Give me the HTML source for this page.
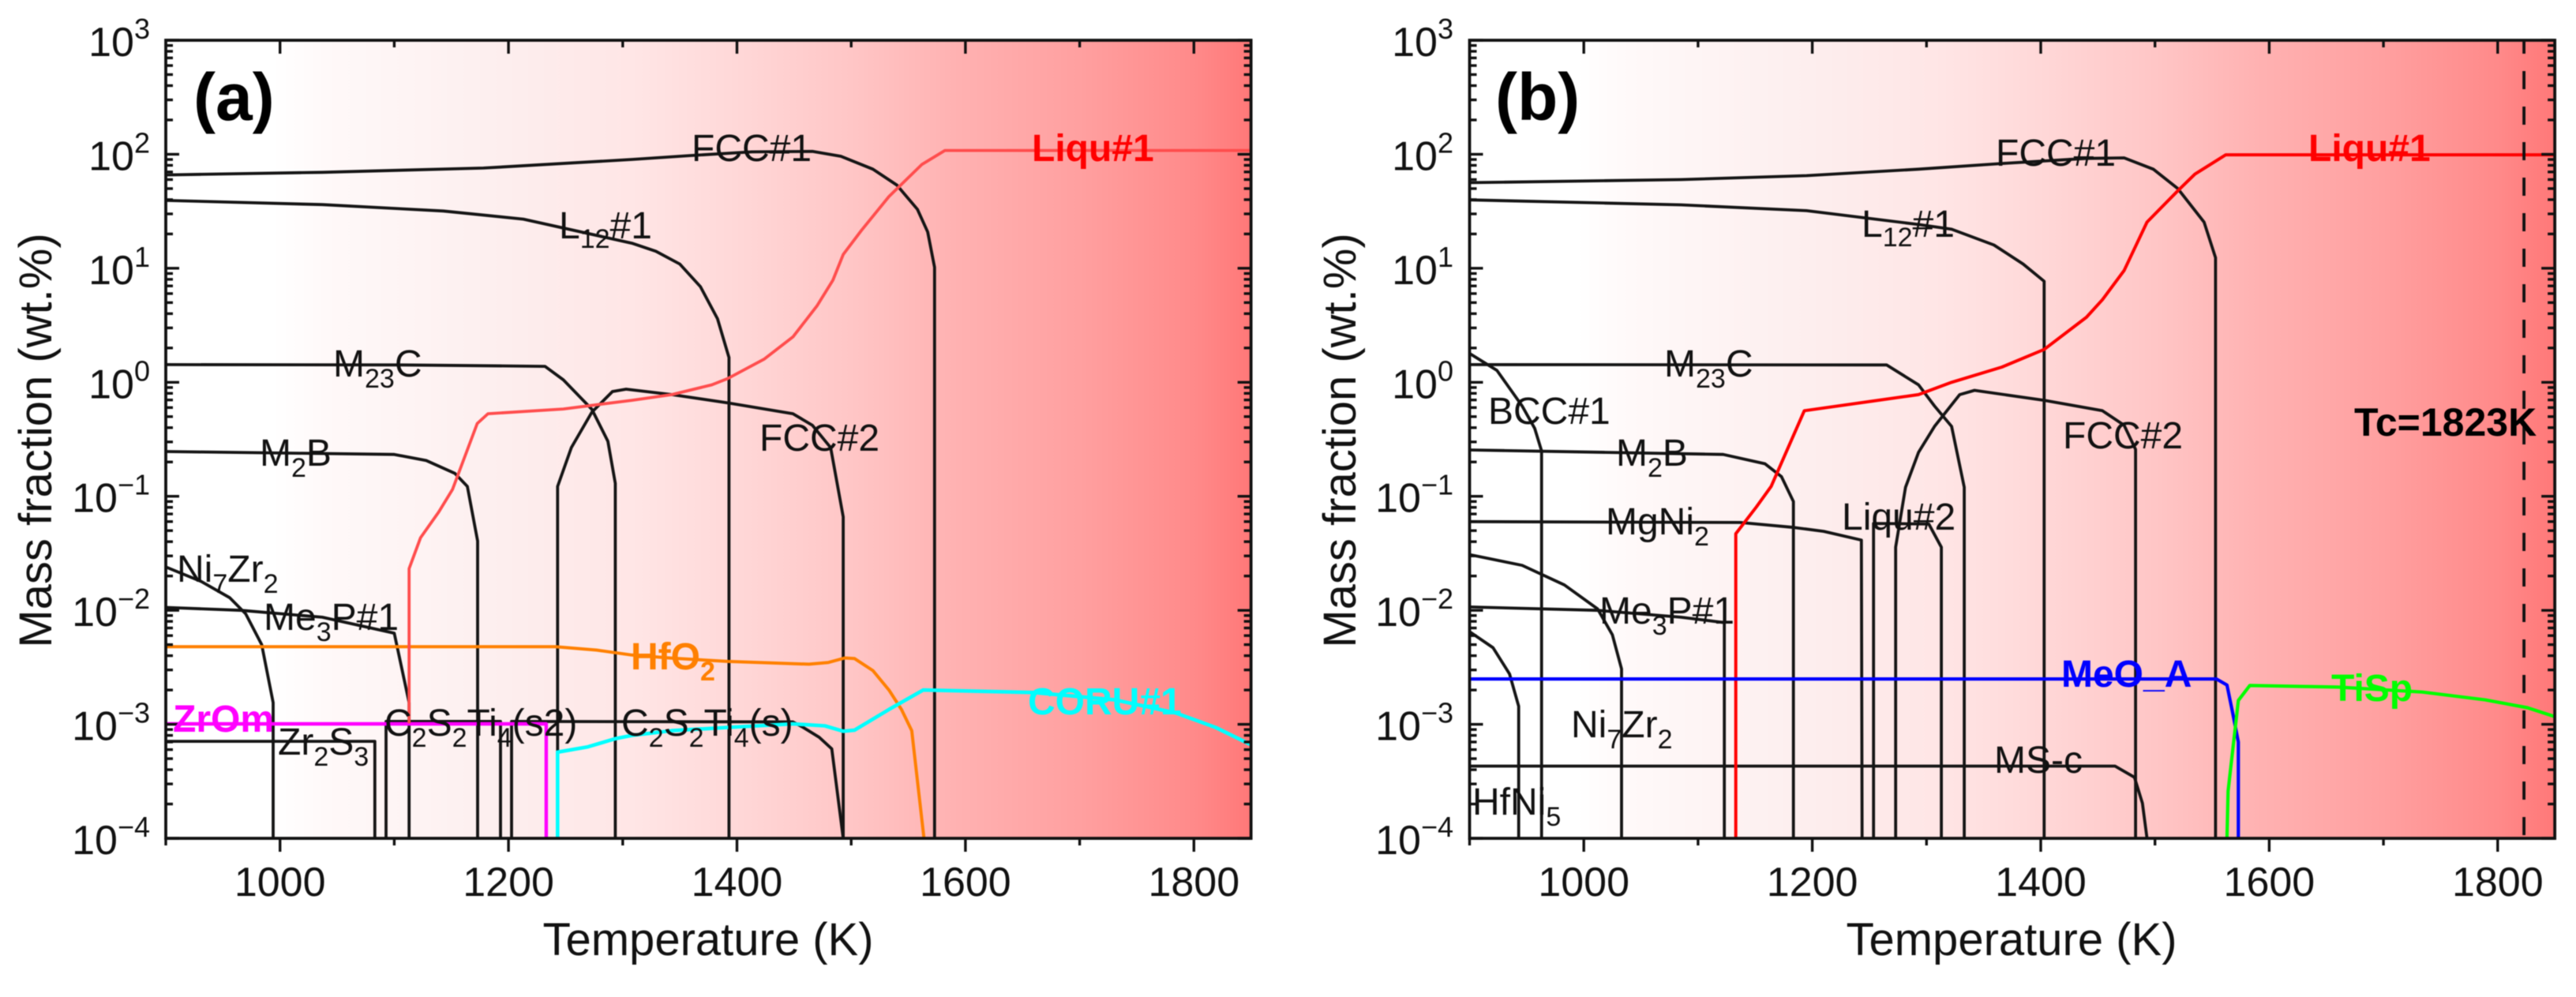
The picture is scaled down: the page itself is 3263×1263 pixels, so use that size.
<!DOCTYPE html>
<html lang="en">
<head>
<meta charset="utf-8">
<title>Mass fraction vs temperature</title>
<style>
html,body{margin:0;padding:0;background:#fff;}
svg{display:block;filter:blur(0.6px);}
text{font-family:"Liberation Sans",Arial,sans-serif;fill:#111;}
.t{font-size:48px;}
.b{font-size:48px;font-weight:bold;}
.tick{font-size:52px;}
.title{font-size:58px;}
.panel{font-size:84px;font-weight:bold;fill:#000;}
</style>
</head>
<body>
<svg id="figure" xmlns="http://www.w3.org/2000/svg" width="3263" height="1263" viewBox="0 0 3263 1263">
<defs>
<linearGradient id="heat" x1="0" x2="1" y1="0" y2="0">
<stop offset="0" stop-color="#ffffff"/>
<stop offset="0.10" stop-color="#ffffff"/>
<stop offset="0.15" stop-color="#fff9f9"/>
<stop offset="0.316" stop-color="#fdeeee"/>
<stop offset="0.43" stop-color="#ffe6e6"/>
<stop offset="0.526" stop-color="#ffd8d8"/>
<stop offset="0.632" stop-color="#ffc6c6"/>
<stop offset="0.726" stop-color="#ffb2b2"/>
<stop offset="0.842" stop-color="#ffa0a0"/>
<stop offset="0.947" stop-color="#ff8a8a"/>
<stop offset="1" stop-color="#ff7878"/>
</linearGradient>
<clipPath id="clip-a"><rect x="210" y="51" width="1375" height="1011"/></clipPath>
<clipPath id="clip-b"><rect x="1861.5" y="51" width="1375" height="1011"/></clipPath>
</defs>

<rect x="210" y="51" width="1375" height="1011" fill="url(#heat)"/>
<rect x="1861.5" y="51" width="1375" height="1011" fill="url(#heat)"/>

<g id="curves-a" clip-path="url(#clip-a)" fill="none" stroke-linejoin="round"></g>
<g id="curves-b" clip-path="url(#clip-b)" fill="none" stroke-linejoin="round"></g>
<g id="axes-a"></g>
<g id="axes-b"></g>

<g>
<text class="panel" x="245" y="152">(a)</text>
<text class="t" x="876" y="204">FCC#1</text>
<text class="b" x="1307" y="204" style="fill:#ff0000">Liqu#1</text>
<text class="t" x="708" y="302">L<tspan font-size="34" dy="12">12</tspan><tspan dy="-12">#1</tspan></text>
<text class="t" x="422" y="477">M<tspan font-size="34" dy="14">23</tspan><tspan dy="-14">C</tspan></text>
<text class="t" x="962" y="571">FCC#2</text>
<text class="t" x="329" y="590">M<tspan font-size="34" dy="14">2</tspan><tspan dy="-14">B</tspan></text>
<text class="t" x="224" y="737">Ni<tspan font-size="34" dy="14">7</tspan><tspan dy="-14">Zr</tspan><tspan font-size="34" dy="14">2</tspan></text>
<text class="t" x="334" y="798">Me<tspan font-size="34" dy="14">3</tspan><tspan dy="-14">P#1</tspan></text>
<text class="b" x="799" y="848" style="fill:#ff8000">HfO<tspan font-size="34" dy="14">2</tspan></text>
<text class="b" x="219" y="927" style="fill:#ff00ff">ZrOm</text>
<text class="t" x="352" y="956">Zr<tspan font-size="34" dy="14">2</tspan><tspan dy="-14">S</tspan><tspan font-size="34" dy="14">3</tspan></text>
<text class="t" x="487" y="932">C<tspan font-size="34" dy="14">2</tspan><tspan dy="-14">S</tspan><tspan font-size="34" dy="14">2</tspan><tspan dy="-14">Ti</tspan><tspan font-size="34" dy="14">4</tspan><tspan dy="-14">(s2)</tspan></text>
<text class="t" x="787" y="932">C<tspan font-size="34" dy="14">2</tspan><tspan dy="-14">S</tspan><tspan font-size="34" dy="14">2</tspan><tspan dy="-14">Ti</tspan><tspan font-size="34" dy="14">4</tspan><tspan dy="-14">(s)</tspan></text>
<text class="b" x="1302" y="905" style="fill:#00ffff">CORU#1</text>
<text class="title" transform="translate(65,558) rotate(-90)" text-anchor="middle">Mass fraction (wt.%)</text>
<text class="title" x="897" y="1210" text-anchor="middle">Temperature (K)</text>
</g>

<g>
<text class="panel" x="1894" y="152">(b)</text>
<text class="t" x="2528" y="210">FCC#1</text>
<text class="b" x="2924" y="204" style="fill:#ff0000">Liqu#1</text>
<text class="t" x="2358" y="300">L<tspan font-size="34" dy="12">12</tspan><tspan dy="-12">#1</tspan></text>
<text class="t" x="2108" y="477">M<tspan font-size="34" dy="14">23</tspan><tspan dy="-14">C</tspan></text>
<text class="t" x="1885" y="537">BCC#1</text>
<text class="t" x="2047" y="590">M<tspan font-size="34" dy="14">2</tspan><tspan dy="-14">B</tspan></text>
<text class="t" x="2613" y="568">FCC#2</text>
<text class="t" x="2034" y="677">MgNi<tspan font-size="34" dy="14">2</tspan></text>
<text class="t" x="2333" y="671">Liqu#2</text>
<text class="t" x="2026" y="790">Me<tspan font-size="34" dy="14">3</tspan><tspan dy="-14">P#1</tspan></text>
<text class="b" x="2611" y="870" style="fill:#0000ff">MeO_A</text>
<text class="b" x="2953" y="888" style="fill:#00ff00">TiSp</text>
<text class="t" x="1990" y="934">Ni<tspan font-size="34" dy="14">7</tspan><tspan dy="-14">Zr</tspan><tspan font-size="34" dy="14">2</tspan></text>
<text class="t" x="2526" y="979">MS-c</text>
<text class="t" x="1865" y="1032">HfNi<tspan font-size="34" dy="14">5</tspan></text>
<text class="b" x="2982" y="552" style="font-size:50px;fill:#000">Tc=1823K</text>
<text class="title" transform="translate(1717,558) rotate(-90)" text-anchor="middle">Mass fraction (wt.%)</text>
<text class="title" x="2548" y="1210" text-anchor="middle">Temperature (K)</text>
</g>
</svg>

<script>
// Axis data
const xMajorTicks = [1000, 1200, 1400, 1600, 1800];
const xMinorTicks = [900, 1100, 1300, 1500, 1700];
const yDecades = [3, 2, 1, 0, -1, -2, -3, -4];
const yMinorFactors = [2, 3, 4, 5, 6, 7, 8, 9];
const criticalTemperature = [1823];

// Panel (a) series: [temperature K, mass fraction wt.%]
const aFcc1 = [[900,65.9],[1037,69.5],[1178,75.7],[1308,90],[1360,97.5],[1413,105],[1466,106],[1491,96],[1519,74],[1540,53.6],[1558,32.9],[1567,20.8],[1573,10.2],[1573,0.0001]];
const aL12 = [[900,39.4],[1037,36.2],[1143,31.8],[1213,27],[1308,16.6],[1329,14.1],[1350,10.9],[1368,6.9],[1383,3.6],[1393,1.65],[1393,0.0001]];
const aM23c = [[900,1.43],[1107,1.42],[1232,1.38],[1248,1.05],[1273,0.58],[1287,0.304],[1293.5,0.13],[1293.5,0.0001]];
const aM2b = [[900,0.247],[1100,0.233],[1128,0.206],[1153,0.159],[1164,0.122],[1173,0.0405],[1173,0.0001]];
const aFcc2 = [[1243,0.0001],[1243,0.122],[1255,0.267],[1273,0.546],[1291,0.83],[1303,0.87],[1343,0.78],[1392,0.66],[1449,0.53],[1466,0.42],[1482,0.267],[1493,0.066],[1493,0.0001]];
const aMe3p = [[900,0.0106],[966,0.01],[1037,0.0087],[1100,0.0063],[1113,0.00155],[1113,0.0001]];
const aNi7zr2 = [[900,0.024],[931,0.0179],[956,0.0129],[970,0.0093],[984,0.005],[994,0.00155],[994,0.0001]];
const aZr2s3 = [[900,0.00071],[1083,0.00071],[1083,0.0001]];
const aC2s2ti4S2 = [[1092.8,0.0001],[1092.8,0.00106],[1193,0.00106],[1193,0.0001]];
const aC2s2ti4S = [[1202.7,0.0001],[1202.7,0.00106],[1449,0.00105],[1458,0.00094],[1472,0.00077],[1483,0.00061],[1493,0.0001]];
const aLiqu1 = [[1113,0.00102],[1113,0.0232],[1123,0.0433],[1139,0.073],[1151,0.115],[1172.6,0.435],[1182,0.53],[1248,0.583],[1308,0.695],[1343,0.78],[1378,0.95],[1392,1.08],[1424,1.6],[1449,2.5],[1470,4.67],[1484,7.85],[1493,13.2],[1509,21.5],[1533,42.6],[1562,81.6],[1582,108],[1850,108]];
const aHfo2 = [[900,0.0048],[1241,0.0048],[1277,0.00448],[1308,0.00405],[1343,0.0038],[1392,0.00356],[1463,0.00337],[1480,0.00349],[1494.5,0.00382],[1503,0.00377],[1519,0.00296],[1533,0.002],[1544,0.00135],[1553,0.00088],[1563.7,0.0001]];
const aZrom = [[900,0.00101],[1233,0.00101],[1233,0.0001]];
const aCoru1 = [[1243,0.0001],[1243,0.00057],[1269.5,0.000635],[1294,0.00075],[1308,0.0008],[1343,0.00088],[1392,0.00094],[1449,0.00101],[1477,0.00097],[1493,0.00087],[1503,0.00089],[1533,0.00135],[1563,0.002],[1660,0.0019],[1731,0.00164],[1784,0.00126],[1819,0.00094],[1850,0.00066]];

// Panel (b) series: [temperature K, mass fraction wt.%]
const bFcc1 = [[900,56.4],[1085,60],[1195,65],[1293,74],[1366,83],[1440,92],[1473,93],[1498.5,74],[1520,50],[1543,25.4],[1553,12.4],[1553,0.0001]];
const bL12 = [[900,39.8],[1085,36],[1195,32],[1293,24.2],[1322,22],[1359,16],[1384.6,10.9],[1403,7.7],[1403,0.0001]];
const bM23c = [[900,1.43],[1265,1.42],[1293,0.95],[1307,0.62],[1322,0.41],[1333,0.12],[1333,0.0001]];
const bM2b = [[900,0.255],[1122,0.233],[1158.6,0.193],[1173,0.149],[1183.5,0.09],[1183.5,0.0001]];
const bBcc1 = [[900,1.79],[924,1.27],[946,0.62],[957,0.394],[963,0.25],[963,0.0001]];
const bMgni2 = [[900,0.06],[1137,0.0589],[1184,0.0533],[1210,0.0493],[1243,0.0413],[1243.6,0.0001]];
const bNi7zr2 = [[900,0.0308],[946,0.0248],[983,0.0167],[1012,0.0103],[1025,0.0061],[1033,0.00306],[1033,0.0001]];
const bMe3p = [[900,0.0107],[1012,0.01],[1085,0.0087],[1123,0.0078],[1123,0.0001]];
const bHfni5 = [[900,0.0065],[920.5,0.0047],[935,0.00277],[943,0.00144],[943,0.0001]];
const bMsc = [[900,0.00043],[1465,0.00043],[1482,0.000343],[1489,0.000203],[1493,0.0001]];
const bLiqu2 = [[1253.6,0.0001],[1253.6,0.0578],[1302,0.0572],[1313,0.0358],[1313,0.0001]];
const bFcc2 = [[1273,0.0001],[1273,0.0358],[1281.6,0.12],[1293,0.243],[1307,0.41],[1329,0.78],[1342,0.85],[1403,0.695],[1454,0.563],[1473,0.42],[1483,0.258],[1483,0.0001]];
const bLiqu1 = [[1133,0.0001],[1133,0.047],[1151,0.0805],[1164,0.122],[1193,0.563],[1293,0.78],[1322,1.0],[1366,1.36],[1403,1.94],[1440,3.72],[1454,5.3],[1473,9.55],[1493,25.4],[1520.6,48.5],[1535,67],[1562,99],[1850,99]];
const bMeoA = [[900,0.0025],[1553.7,0.0025],[1563,0.00221],[1568,0.00126],[1573,0.0007],[1573,0.0001]];
const bTisp = [[1563,0.0001],[1564,0.00026],[1573,0.00162],[1583,0.00219],[1660,0.00212],[1734,0.00192],[1789,0.00164],[1826,0.0014],[1851,0.00116]];

const NS = 'http://www.w3.org/2000/svg';
const plotTop = 51;
const decadeHeight = 144.43;
const kelvinWidth = 1.447;

function scaleX(x0, t) { return x0 + (t - 900) * kelvinWidth; }
function scaleY(v) { return plotTop + (3 - Math.log10(v)) * decadeHeight; }

function drawCurve(groupId, x0, points, color, width, name, dash, dashOffset) {
  const el = document.createElementNS(NS, 'polyline');
  
  
  el.setAttribute('points', points.map(function (p) {
    return scaleX(x0, p[0]).toFixed(1) + ',' + scaleY(p[1]).toFixed(1);
  }).join(' '));
  el.setAttribute('stroke', color);
  el.setAttribute('stroke-width', width);
  if (dash) el.setAttribute('stroke-dasharray', dash);
  if (dashOffset) el.setAttribute('stroke-dashoffset', dashOffset);
  document.getElementById(groupId).appendChild(el);
}

function tickLine(group, x1, y1, x2, y2, name) {
  const el = document.createElementNS(NS, 'line');
  
  
  el.setAttribute('x1', x1);
  el.setAttribute('y1', y1);
  el.setAttribute('x2', x2);
  el.setAttribute('y2', y2);
  el.setAttribute('stroke', '#111');
  el.setAttribute('stroke-width', 3.4);
  group.appendChild(el);
}

function drawAxes(groupId, x0, labelEnd) {
  const g = document.getElementById(groupId);
  const xEnd = scaleX(x0, 1850);
  const yBottom = scaleY(0.0001);

  const frame = document.createElementNS(NS, 'rect');
  
  
  frame.setAttribute('x', x0);
  frame.setAttribute('y', plotTop);
  frame.setAttribute('width', xEnd - x0);
  frame.setAttribute('height', yBottom - plotTop);
  frame.setAttribute('fill', 'none');
  frame.setAttribute('stroke', '#111');
  frame.setAttribute('stroke-width', 3.8);
  g.appendChild(frame);

  xMajorTicks.forEach(function (t) {
    const x = scaleX(x0, t);
    tickLine(g, x, yBottom, x, yBottom + 17, 'x-major-tick-bottom');
    tickLine(g, x, plotTop, x, plotTop + 17, 'x-major-tick-top');
    const label = document.createElementNS(NS, 'text');
    
    
    label.setAttribute('class', 'tick');
    label.setAttribute('x', x);
    label.setAttribute('y', 1135);
    label.setAttribute('text-anchor', 'middle');
    label.textContent = String(t);
    g.appendChild(label);
  });
  xMinorTicks.forEach(function (t) {
    const x = scaleX(x0, t);
    tickLine(g, x, yBottom, x, yBottom + 9, 'x-minor-tick-bottom');
    if (t > 900) tickLine(g, x, plotTop, x, plotTop + 9, 'x-minor-tick-top');
  });
  yDecades.forEach(function (d) {
    const v = Math.pow(10, d);
    const y = scaleY(v);
    tickLine(g, x0, y, x0 + 17, y, 'y-major-tick-left');
    tickLine(g, xEnd, y, xEnd - 17, y, 'y-major-tick-right');
    const label = document.createElementNS(NS, 'text');
    
    
    label.setAttribute('class', 'tick');
    label.setAttribute('x', labelEnd);
    label.setAttribute('y', y + 20);
    label.setAttribute('text-anchor', 'end');
    label.appendChild(document.createTextNode('10'));
    const sup = document.createElementNS(NS, 'tspan');
    sup.setAttribute('font-size', '36');
    sup.setAttribute('dy', '-22');
    sup.textContent = (d < 0 ? '\u2212' : '') + Math.abs(d);
    label.appendChild(sup);
    g.appendChild(label);
    if (d > -4) {
      yMinorFactors.forEach(function (f) {
        const ym = scaleY(v * f / 10);
        tickLine(g, x0, ym, x0 + 9, ym, 'y-minor-tick-left');
        tickLine(g, xEnd, ym, xEnd - 9, ym, 'y-minor-tick-right');
      });
    }
  });
}

const xA = 210;
const xB = 1861.5;
const black = '#151515';
const lineW = 3.8;

drawCurve('curves-a', xA, aFcc1, black, lineW, 'fcc1-curve');
drawCurve('curves-a', xA, aL12, black, lineW, 'l12-curve');
drawCurve('curves-a', xA, aM23c, black, lineW, 'm23c-curve');
drawCurve('curves-a', xA, aM2b, black, lineW, 'm2b-curve');
drawCurve('curves-a', xA, aFcc2, black, lineW, 'fcc2-curve');
drawCurve('curves-a', xA, aMe3p, black, lineW, 'me3p-curve');
drawCurve('curves-a', xA, aNi7zr2, black, lineW, 'ni7zr2-curve');
drawCurve('curves-a', xA, aZr2s3, black, lineW, 'zr2s3-curve');
drawCurve('curves-a', xA, aC2s2ti4S2, black, lineW, 'c2s2ti4-s2-curve');
drawCurve('curves-a', xA, aC2s2ti4S, black, lineW, 'c2s2ti4-s-curve');
drawCurve('curves-a', xA, aHfo2, '#ff8000', 4, 'hfo2-curve');
drawCurve('curves-a', xA, aZrom, '#ff00ff', 4.4, 'zrom-curve');
drawCurve('curves-a', xA, aCoru1, '#00ffff', 4.6, 'coru1-curve');
drawCurve('curves-a', xA, aLiqu1, '#ff4d4d', 3.8, 'liquid1-curve');

drawCurve('curves-b', xB, bFcc1, black, lineW, 'fcc1-curve');
drawCurve('curves-b', xB, bL12, black, lineW, 'l12-curve');
drawCurve('curves-b', xB, bM23c, black, lineW, 'm23c-curve');
drawCurve('curves-b', xB, bM2b, black, lineW, 'm2b-curve');
drawCurve('curves-b', xB, bBcc1, black, lineW, 'bcc1-curve');
drawCurve('curves-b', xB, bMgni2, black, lineW, 'mgni2-curve');
drawCurve('curves-b', xB, bNi7zr2, black, lineW, 'ni7zr2-curve');
drawCurve('curves-b', xB, bMe3p, black, lineW, 'me3p-curve');
drawCurve('curves-b', xB, bHfni5, black, lineW, 'hfni5-curve');
drawCurve('curves-b', xB, bMsc, black, lineW, 'ms-c-curve');
drawCurve('curves-b', xB, bLiqu2, black, lineW, 'liquid2-curve');
drawCurve('curves-b', xB, bFcc2, black, lineW, 'fcc2-curve');
drawCurve('curves-b', xB, bLiqu1, '#ff0000', 4, 'liquid1-curve');
drawCurve('curves-b', xB, bMeoA, '#0000ff', 4.2, 'meo-a-curve');
drawCurve('curves-b', xB, bTisp, '#00ff00', 4.2, 'tisp-curve');
drawCurve('curves-b', xB, [[criticalTemperature[0], 1000], [criticalTemperature[0], 0.0001]], '#111', 3.8, 'critical-temperature-line', '23 22', 6);

drawAxes('axes-a', xA, 190);
drawAxes('axes-b', xB, 1841);
</script>
</body>
</html>
